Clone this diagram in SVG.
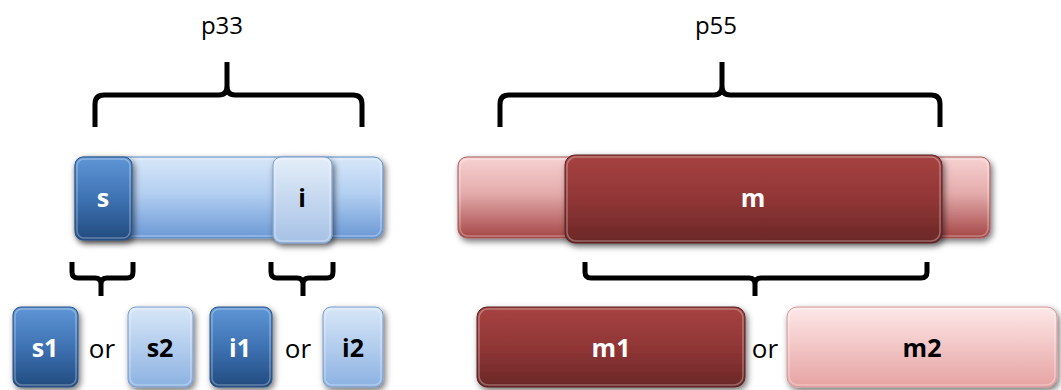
<svg xmlns="http://www.w3.org/2000/svg" width="1061" height="390" viewBox="0 0 1061 390">
<defs>
<linearGradient id="gDarkBlue" x1="0" y1="0" x2="0" y2="1"><stop offset="0" stop-color="#5f96d6"/><stop offset="0.5" stop-color="#3e72b3"/><stop offset="1" stop-color="#224b7f"/></linearGradient>
<linearGradient id="gBlueBar" x1="0" y1="0" x2="0" y2="1"><stop offset="0" stop-color="#d8e7f9"/><stop offset="0.45" stop-color="#b3cff1"/><stop offset="1" stop-color="#6b99d6"/></linearGradient>
<linearGradient id="gIBox" x1="0" y1="0" x2="0" y2="1"><stop offset="0" stop-color="#e4eef9"/><stop offset="1" stop-color="#a6c1e5"/></linearGradient>
<linearGradient id="gLightBlue" x1="0" y1="0" x2="0" y2="1"><stop offset="0" stop-color="#d8e7f8"/><stop offset="1" stop-color="#8cb2e2"/></linearGradient>
<linearGradient id="gRedBar" x1="0" y1="0" x2="0" y2="1"><stop offset="0" stop-color="#f7d2d2"/><stop offset="0.45" stop-color="#e4abab"/><stop offset="1" stop-color="#a54646"/></linearGradient>
<linearGradient id="gDarkRed" x1="0" y1="0" x2="0" y2="1"><stop offset="0" stop-color="#a64241"/><stop offset="0.5" stop-color="#913636"/><stop offset="1" stop-color="#6a2727"/></linearGradient>
<linearGradient id="gLightRed" x1="0" y1="0" x2="0" y2="1"><stop offset="0" stop-color="#fee8e8"/><stop offset="1" stop-color="#e6a2a2"/></linearGradient>
<filter id="shadow" x="-20%" y="-20%" width="140%" height="150%"><feDropShadow dx="2" dy="3" stdDeviation="3" flood-color="#000" flood-opacity="0.55"/></filter>
</defs>
<style>
.box{filter:url(#shadow);}
.hl{fill:none;stroke:#fff;stroke-opacity:0.3;stroke-width:1.5;}
.lblW{font-family:"Open Sans","Liberation Sans",sans-serif;font-weight:bold;font-size:25px;fill:#fff;text-anchor:middle;}
.lblB{font-family:"Open Sans","Liberation Sans",sans-serif;font-weight:bold;font-size:25px;fill:#000;text-anchor:middle;}
.or{font-family:"Open Sans","Liberation Sans",sans-serif;font-size:26px;fill:#000;text-anchor:middle;}
.title{font-family:"Open Sans","Liberation Sans",sans-serif;font-size:24px;fill:#000;text-anchor:middle;}
.brace{fill:none;stroke:#000;stroke-width:5;stroke-linejoin:round;}
</style>

<g id="p33-label"><text class="title" x="222" y="34">p33</text></g>
<g id="p55-label"><text class="title" x="716" y="34">p55</text></g>

<g id="bar-p33">
<rect class="box" x="75" y="157" width="308" height="81" rx="9" fill="url(#gBlueBar)" stroke="#5f8cc6" stroke-width="1"/>
<rect class="hl" x="77" y="159" width="304" height="77" rx="8"/>
</g>
<g id="box-s">
<rect class="box" x="75" y="157" width="57" height="83" rx="8" fill="url(#gDarkBlue)" stroke="#2a5386" stroke-width="1"/>
<rect class="hl" x="77" y="159" width="53" height="79" rx="7"/>
<text class="lblW" x="103" y="207">s</text>
</g>
<g id="box-i">
<rect class="box" x="273" y="157" width="59" height="86" rx="8" fill="url(#gIBox)" stroke="#7d9ccb" stroke-width="1"/>
<rect class="hl" x="275" y="159" width="55" height="82" rx="7"/>
<text class="lblB" x="302" y="207">i</text>
</g>

<g id="bar-p55">
<rect class="box" x="458" y="157" width="532" height="81" rx="9" fill="url(#gRedBar)" stroke="#a85a5a" stroke-width="1"/>
<rect class="hl" x="460" y="159" width="528" height="77" rx="8"/>
</g>
<g id="box-m">
<rect class="box" x="565" y="155" width="377" height="88" rx="10" fill="url(#gDarkRed)" stroke="#5a2020" stroke-width="1"/>
<rect class="hl" x="567" y="157" width="373" height="84" rx="9"/>
<text class="lblW" x="753" y="207">m</text>
</g>

<g id="box-s1">
<rect class="box" x="13" y="307" width="65" height="80" rx="8" fill="url(#gDarkBlue)" stroke="#2a5386" stroke-width="1"/>
<rect class="hl" x="15" y="309" width="61" height="76" rx="7"/>
<text class="lblW" x="45" y="357">s1</text>
</g>
<g id="or-1"><text class="or" x="102" y="358">or</text></g>
<g id="box-s2">
<rect class="box" x="128" y="307" width="65" height="80" rx="8" fill="url(#gLightBlue)" stroke="#7d9ccb" stroke-width="1"/>
<rect class="hl" x="130" y="309" width="61" height="76" rx="7"/>
<text class="lblB" x="160" y="357">s2</text>
</g>
<g id="box-i1">
<rect class="box" x="210" y="307" width="62" height="80" rx="8" fill="url(#gDarkBlue)" stroke="#2a5386" stroke-width="1"/>
<rect class="hl" x="212" y="309" width="58" height="76" rx="7"/>
<text class="lblW" x="240" y="357">i1</text>
</g>
<g id="or-2"><text class="or" x="298" y="358">or</text></g>
<g id="box-i2">
<rect class="box" x="323" y="307" width="60" height="80" rx="8" fill="url(#gLightBlue)" stroke="#7d9ccb" stroke-width="1"/>
<rect class="hl" x="325" y="309" width="56" height="76" rx="7"/>
<text class="lblB" x="353" y="357">i2</text>
</g>

<g id="box-m1">
<rect class="box" x="477" y="307" width="268" height="80" rx="10" fill="url(#gDarkRed)" stroke="#5a2020" stroke-width="1"/>
<rect class="hl" x="479" y="309" width="264" height="76" rx="9"/>
<text class="lblW" x="611" y="357">m1</text>
</g>
<g id="or-3"><text class="or" x="765" y="358">or</text></g>
<g id="box-m2">
<rect class="box" x="787" y="307" width="270" height="80" rx="10" fill="url(#gLightRed)" stroke="#d49a9a" stroke-width="1"/>
<rect class="hl" x="789" y="309" width="266" height="76" rx="9"/>
<text class="lblB" x="922" y="357">m2</text>
</g>

<g id="connectors">
<path class="brace" d="M95,127 V104 Q95,95 104,95 H219 Q227,95 227,86 V62 M227,86 Q227,95 235,95 H353 Q362,95 362,104 V127"/>
<path class="brace" d="M500,127 V104 Q500,95 509,95 H714 Q722,95 722,86 V62 M722,86 Q722,95 730,95 H931 Q940,95 940,104 V127"/>
<path class="brace" d="M72,262 V272 Q72,278 78,278 H95 Q101,278 101,284 V296 M101,284 Q101,278 107,278 H127 Q133,278 133,272 V262"/>
<path class="brace" d="M271,262 V272 Q271,278 277,278 H297 Q303,278 303,284 V296 M303,284 Q303,278 309,278 H327 Q333,278 333,272 V262"/>
<path class="brace" d="M585,262 V272 Q585,278 591,278 H749 Q755,278 755,284 V296 M755,284 Q755,278 761,278 H921 Q927,278 927,272 V262"/>
</g>
</svg>
